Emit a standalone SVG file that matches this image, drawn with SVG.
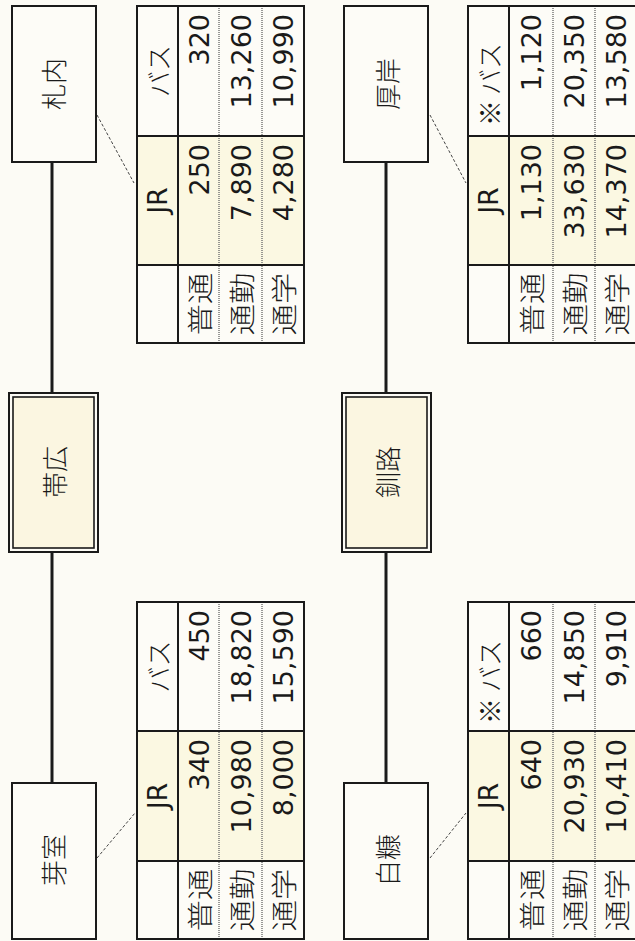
<svg xmlns="http://www.w3.org/2000/svg" width="635" height="941" viewBox="0 0 635 941">
<style>
.bg{fill:#fcfbf5}
.box{fill:#fdfcf7;stroke:#1a1a1a;stroke-width:2}
.hub{fill:#fbf6e1;stroke:#1a1a1a;stroke-width:1.6}
.hubo{fill:none;stroke:#1a1a1a;stroke-width:2}
.line{stroke:#1a1a1a;stroke-width:3;fill:none}
.lead{stroke:#444;stroke-width:1;stroke-dasharray:3 2;fill:none}
.tb{fill:none;stroke:#1a1a1a;stroke-width:2}
.dot{stroke:#777;stroke-width:1.5;stroke-dasharray:1 1;fill:none}
.jr{fill:#fbf8e2}
.st{font-family:"Noto Sans CJK JP","Noto Sans",sans-serif;font-size:26px;font-weight:300;fill:#1a1a1a;text-anchor:middle;dominant-baseline:central}
.jp{font-family:"Noto Sans CJK JP","Noto Sans",sans-serif;font-size:26px;font-weight:300;fill:#1a1a1a;text-anchor:middle;dominant-baseline:central}
.hd{font-family:"DejaVu Sans","Noto Sans CJK JP",sans-serif;font-size:27px;fill:#1a1a1a;text-anchor:middle}
.num{font-family:"DejaVu Sans",sans-serif;font-size:27px;fill:#1a1a1a;text-anchor:end}
</style>
<rect class="bg" x="0" y="0" width="635" height="941"/>

<g id="connectors">
<line class="line" x1="52" y1="162" x2="52" y2="393"/>
<line class="line" x1="52" y1="552" x2="52" y2="783"/>
<line class="line" x1="386" y1="162" x2="386" y2="393"/>
<line class="line" x1="386" y1="552" x2="386" y2="783"/>
<line class="lead" x1="97" y1="115" x2="134" y2="183"/>
<line class="lead" x1="430" y1="115" x2="466" y2="183"/>
<line class="lead" x1="97" y1="858" x2="135" y2="813"/>
<line class="lead" x1="430" y1="858" x2="466" y2="813"/>
</g>

<g id="node-sapporonai">
<rect class="box" x="12" y="6" width="84" height="156"/>
<text class="st" transform="translate(52,84) rotate(-90)">札内</text>
</g>
<g id="node-obihiro">
<rect class="hubo" x="9" y="393" width="89" height="159"/>
<rect class="hub" x="13" y="397" width="81" height="151"/>
<text class="st" transform="translate(53,472) rotate(-90)">帯広</text>
</g>
<g id="node-memuro">
<rect class="box" x="12" y="783" width="84" height="156"/>
<text class="st" transform="translate(52,860) rotate(-90)">芽室</text>
</g>
<g id="node-akkeshi">
<rect class="box" x="344" y="6" width="84" height="156"/>
<text class="st" transform="translate(386,84) rotate(-90)">厚岸</text>
</g>
<g id="node-kushiro">
<rect class="hubo" x="342" y="393" width="89" height="159"/>
<rect class="hub" x="346" y="397" width="81" height="151"/>
<text class="st" transform="translate(386,472) rotate(-90)">釧路</text>
</g>
<g id="node-shiranuka">
<rect class="box" x="344" y="783" width="84" height="156"/>
<text class="st" transform="translate(386,860) rotate(-90)">白糠</text>
</g>

<!-- Table 札内 -->
<g id="table-sapporonai">
<rect fill="#fdfcf7" x="137" y="6" width="167" height="337"/>
<rect class="jr" x="137" y="136" width="167" height="129"/>
<line class="dot" x1="219" y1="6" x2="219" y2="343"/>
<line class="dot" x1="262" y1="6" x2="262" y2="343"/>
<rect class="tb" x="137" y="6" width="167" height="337"/>
<line class="tb" x1="178" y1="6" x2="178" y2="343"/>
<line class="tb" x1="137" y1="136" x2="304" y2="136"/>
<line class="tb" x1="137" y1="265" x2="304" y2="265"/>
<text class="hd" transform="translate(167,200.5) rotate(-90)">JR</text>
<text class="jp" transform="translate(157.5,71) rotate(-90)">バス</text>
<text class="jp" transform="translate(198.5,304) rotate(-90) scale(1.2,1)">普通</text>
<text class="jp" transform="translate(240.5,304) rotate(-90) scale(1.2,1)">通勤</text>
<text class="jp" transform="translate(283,304) rotate(-90) scale(1.2,1)">通学</text>
<text class="num" transform="translate(208.5,144) rotate(-90)">250</text>
<text class="num" transform="translate(250.5,144) rotate(-90)">7,890</text>
<text class="num" transform="translate(293,144) rotate(-90)">4,280</text>
<text class="num" transform="translate(208.5,14) rotate(-90)">320</text>
<text class="num" transform="translate(250.5,14) rotate(-90)">13,260</text>
<text class="num" transform="translate(293,14) rotate(-90)">10,990</text>
</g>

<!-- Table 芽室 -->
<g id="table-memuro">
<rect fill="#fdfcf7" x="137" y="602" width="167" height="337"/>
<rect class="jr" x="137" y="731" width="167" height="130"/>
<line class="dot" x1="219" y1="602" x2="219" y2="939"/>
<line class="dot" x1="262" y1="602" x2="262" y2="939"/>
<rect class="tb" x="137" y="602" width="167" height="337"/>
<line class="tb" x1="178" y1="602" x2="178" y2="939"/>
<line class="tb" x1="137" y1="731" x2="304" y2="731"/>
<line class="tb" x1="137" y1="861" x2="304" y2="861"/>
<text class="hd" transform="translate(167,796) rotate(-90)">JR</text>
<text class="jp" transform="translate(157.5,666.5) rotate(-90)">バス</text>
<text class="jp" transform="translate(198.5,900) rotate(-90) scale(1.2,1)">普通</text>
<text class="jp" transform="translate(240.5,900) rotate(-90) scale(1.2,1)">通勤</text>
<text class="jp" transform="translate(283,900) rotate(-90) scale(1.2,1)">通学</text>
<text class="num" transform="translate(208.5,739) rotate(-90)">340</text>
<text class="num" transform="translate(250.5,739) rotate(-90)">10,980</text>
<text class="num" transform="translate(293,739) rotate(-90)">8,000</text>
<text class="num" transform="translate(208.5,610) rotate(-90)">450</text>
<text class="num" transform="translate(250.5,610) rotate(-90)">18,820</text>
<text class="num" transform="translate(293,610) rotate(-90)">15,590</text>
</g>

<!-- Table 厚岸 -->
<g id="table-akkeshi">
<rect fill="#fdfcf7" x="468" y="6" width="170" height="337"/>
<rect class="jr" x="468" y="136" width="170" height="129"/>
<line class="dot" x1="553" y1="6" x2="553" y2="343"/>
<line class="dot" x1="595" y1="6" x2="595" y2="343"/>
<rect class="tb" x="468" y="6" width="170" height="337"/>
<line class="tb" x1="509" y1="6" x2="509" y2="343"/>
<line class="tb" x1="468" y1="136" x2="638" y2="136"/>
<line class="tb" x1="468" y1="265" x2="638" y2="265"/>
<text class="hd" transform="translate(498,200.5) rotate(-90)">JR</text>
<text class="jp" transform="translate(488.5,113) rotate(-90)">※</text>
<text class="jp" transform="translate(488.5,69) rotate(-90)">バス</text>
<text class="jp" transform="translate(531,304) rotate(-90) scale(1.2,1)">普通</text>
<text class="jp" transform="translate(574,304) rotate(-90) scale(1.2,1)">通勤</text>
<text class="jp" transform="translate(616,304) rotate(-90) scale(1.2,1)">通学</text>
<text class="num" transform="translate(541,144) rotate(-90)">1,130</text>
<text class="num" transform="translate(584,144) rotate(-90)">33,630</text>
<text class="num" transform="translate(626,144) rotate(-90)">14,370</text>
<text class="num" transform="translate(541,14) rotate(-90)">1,120</text>
<text class="num" transform="translate(584,14) rotate(-90)">20,350</text>
<text class="num" transform="translate(626,14) rotate(-90)">13,580</text>
</g>

<!-- Table 白糠 -->
<g id="table-shiranuka">
<rect fill="#fdfcf7" x="468" y="602" width="170" height="337"/>
<rect class="jr" x="468" y="731" width="170" height="130"/>
<line class="dot" x1="553" y1="602" x2="553" y2="939"/>
<line class="dot" x1="595" y1="602" x2="595" y2="939"/>
<rect class="tb" x="468" y="602" width="170" height="337"/>
<line class="tb" x1="509" y1="602" x2="509" y2="939"/>
<line class="tb" x1="468" y1="731" x2="638" y2="731"/>
<line class="tb" x1="468" y1="861" x2="638" y2="861"/>
<text class="hd" transform="translate(498,796) rotate(-90)">JR</text>
<text class="jp" transform="translate(488.5,711) rotate(-90)">※</text>
<text class="jp" transform="translate(488.5,666) rotate(-90)">バス</text>
<text class="jp" transform="translate(531,900) rotate(-90) scale(1.2,1)">普通</text>
<text class="jp" transform="translate(574,900) rotate(-90) scale(1.2,1)">通勤</text>
<text class="jp" transform="translate(616,900) rotate(-90) scale(1.2,1)">通学</text>
<text class="num" transform="translate(541,739) rotate(-90)">640</text>
<text class="num" transform="translate(584,739) rotate(-90)">20,930</text>
<text class="num" transform="translate(626,739) rotate(-90)">10,410</text>
<text class="num" transform="translate(541,610) rotate(-90)">660</text>
<text class="num" transform="translate(584,610) rotate(-90)">14,850</text>
<text class="num" transform="translate(626,610) rotate(-90)">9,910</text>
</g>
</svg>
